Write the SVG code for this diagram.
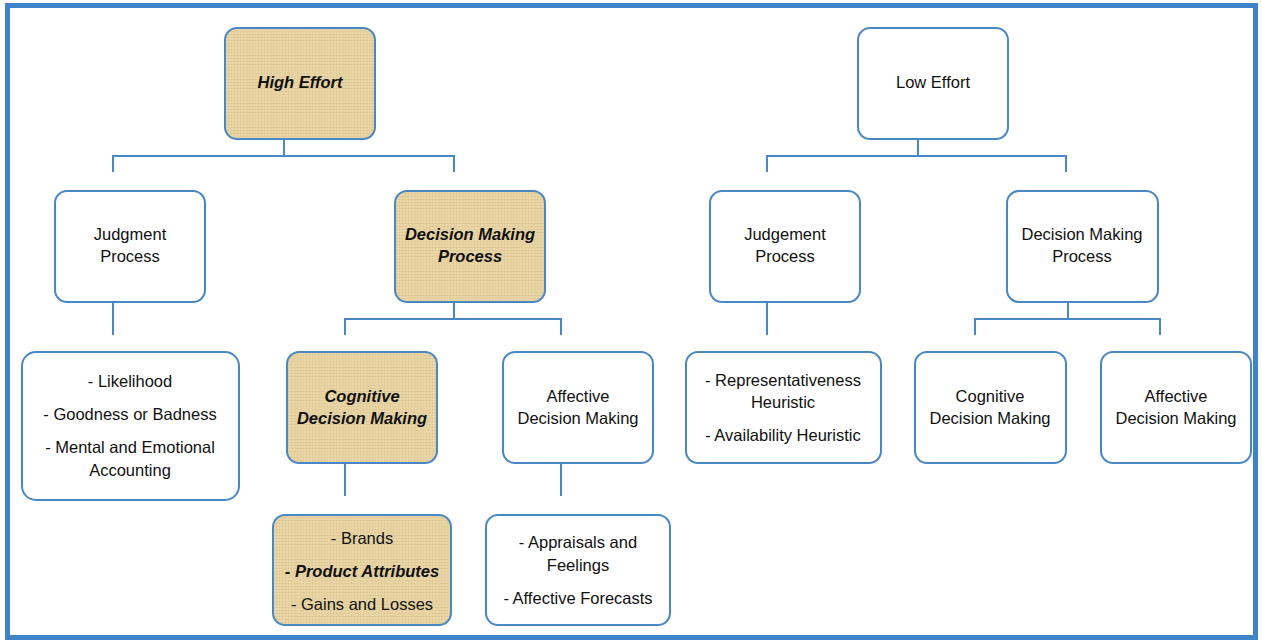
<svg xmlns="http://www.w3.org/2000/svg" width="1262" height="643" viewBox="0 0 1262 643">
<style>
.box{fill:#ffffff;stroke:#4a88c5;stroke-width:2}
.tan{fill:#e6d1a0;stroke:#4a88c5;stroke-width:2}
.t{font-family:"Liberation Sans",Arial,sans-serif;font-size:16.5px;fill:#111;text-anchor:middle}
.b{font-weight:bold;font-style:italic}
.c{fill:none;stroke:#4a88c5;stroke-width:2}
</style>
<defs>
<pattern id="weave" width="6" height="6" patternUnits="userSpaceOnUse">
<rect width="6" height="6" fill="#e6d1a0"/>
<path d="M0 1.5H6M0 4.5H6" stroke="#dcc48f" stroke-width="0.8"/>
<path d="M2 0V6M5 0V6" stroke="#ecdcb2" stroke-width="0.7"/>
</pattern>
</defs>
<rect x="0" y="0" width="1262" height="643" fill="#ffffff"/>
<rect x="7.5" y="5.5" width="1248" height="632" fill="none" stroke="#3f83c8" stroke-width="5"/>
<g id="connectors">
<path class="c" d="M284 139V156M113 172V156H454V172"/>
<path class="c" d="M113 302V335"/>
<path class="c" d="M454 302V319M345 335V319H561V335"/>
<path class="c" d="M345 463V496"/>
<path class="c" d="M561 463V496"/>
<path class="c" d="M918 139V156M767 172V156H1066V172"/>
<path class="c" d="M767 302V335"/>
<path class="c" d="M1068 302V319M975 335V319H1160V335"/>
</g>
<g id="high-effort"><rect class="tan" style="fill:url(#weave)" x="225" y="28" width="150" height="111" rx="12"/><text class="t b" x="300" y="88">High Effort</text></g>
<g id="low-effort"><rect class="box" x="858" y="28" width="150" height="111" rx="12"/><text class="t" x="933" y="88">Low Effort</text></g>
<g id="judgment-process"><rect class="box" x="55" y="191" width="150" height="111" rx="12"/><text class="t" x="130" y="240">Judgment</text><text class="t" x="130" y="262">Process</text></g>
<g id="decision-process-high"><rect class="tan" style="fill:url(#weave)" x="395" y="191" width="150" height="111" rx="12"/><text class="t b" x="470" y="240">Decision Making</text><text class="t b" x="470" y="262">Process</text></g>
<g id="judgement-process-low"><rect class="box" x="710" y="191" width="150" height="111" rx="12"/><text class="t" x="785" y="240">Judgement</text><text class="t" x="785" y="262">Process</text></g>
<g id="decision-process-low"><rect class="box" x="1007" y="191" width="151" height="111" rx="12"/><text class="t" x="1082" y="240">Decision Making</text><text class="t" x="1082" y="262">Process</text></g>
<g id="judgment-items"><rect class="box" x="22" y="352" width="217" height="148" rx="14"/><text class="t" x="130" y="387">- Likelihood</text><text class="t" x="130" y="420">- Goodness or Badness</text><text class="t" x="130" y="453">- Mental and Emotional</text><text class="t" x="130" y="476">Accounting</text></g>
<g id="cognitive-high"><rect class="tan" style="fill:url(#weave)" x="287" y="352" width="150" height="111" rx="12"/><text class="t b" x="362" y="402">Cognitive</text><text class="t b" x="362" y="424">Decision Making</text></g>
<g id="affective-high"><rect class="box" x="503" y="352" width="150" height="111" rx="12"/><text class="t" x="578" y="402">Affective</text><text class="t" x="578" y="424">Decision Making</text></g>
<g id="cognitive-items"><rect class="tan" style="fill:url(#weave)" x="273" y="515" width="178" height="110" rx="12"/><text class="t" x="362" y="544">- Brands</text><text class="t b" x="362" y="577">- Product Attributes</text><text class="t" x="362" y="610">- Gains and Losses</text></g>
<g id="affective-items"><rect class="box" x="486" y="515" width="184" height="110" rx="12"/><text class="t" x="578" y="548">- Appraisals and</text><text class="t" x="578" y="571">Feelings</text><text class="t" x="578" y="604">- Affective Forecasts</text></g>
<g id="heuristics"><rect class="box" x="686" y="352" width="195" height="111" rx="12"/><text class="t" x="783" y="386">- Representativeness</text><text class="t" x="783" y="408">Heuristic</text><text class="t" x="783" y="441">- Availability Heuristic</text></g>
<g id="cognitive-low"><rect class="box" x="915" y="352" width="151" height="111" rx="12"/><text class="t" x="990" y="402">Cognitive</text><text class="t" x="990" y="424">Decision Making</text></g>
<g id="affective-low"><rect class="box" x="1101" y="352" width="150" height="111" rx="12"/><text class="t" x="1176" y="402">Affective</text><text class="t" x="1176" y="424">Decision Making</text></g>
</svg>
